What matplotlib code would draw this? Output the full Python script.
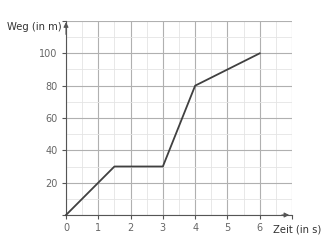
import numpy as np
import matplotlib.pyplot as plt

# Weg-Zeit-Diagramm
zeit = [0, 1.5, 3, 4, 6]
weg = [0, 30, 30, 80, 100]
x_ticks = [0, 1, 2, 3, 4, 5, 6]
y_ticks = [20, 40, 60, 80, 100]

fig = plt.figure(figsize=(3.35, 2.52), dpi=100)
ax = fig.add_axes([66/335, 1 - 215/252, 226/335, 194/252])

ax.set_xlim(0, 7)
ax.set_ylim(0, 120)

# grid
ax.set_xticks(np.arange(0, 7.01, 1))
ax.set_yticks(np.arange(0, 120.1, 20))
ax.set_xticks(np.arange(0, 7.01, 0.5), minor=True)
ax.set_yticks(np.arange(0, 120.1, 10), minor=True)
ax.grid(which='major', color='#b0b0b0', lw=0.8)
ax.grid(which='minor', color='#e4e4e4', lw=0.6)
ax.set_axisbelow(True)

ax.set_xticklabels([str(t) if t in x_ticks else '' for t in range(8)])
ax.set_yticklabels(['' if t not in y_ticks else str(t) for t in range(0, 121, 20)])
ax.tick_params(which='major', length=3, color='#555555', labelsize=7, labelcolor='#666666', pad=3)
ax.tick_params(which='minor', length=0)

for s in ['top', 'right']:
    ax.spines[s].set_visible(False)
for s in ['left', 'bottom']:
    ax.spines[s].set_color('#555555')
    ax.spines[s].set_linewidth(0.8)

ax.plot(zeit, weg, color='#404040', lw=1.3, clip_on=False, zorder=3)

# Pfeile an den Achsen
ax.annotate('', xy=(7, 0), xytext=(6.6, 0),
            arrowprops=dict(arrowstyle='-|>', color='#555555', lw=0.8, mutation_scale=7),
            annotation_clip=False)
ax.annotate('', xy=(0, 121), xytext=(0, 110),
            arrowprops=dict(arrowstyle='-|>', color='#555555', lw=0.8, mutation_scale=7),
            annotation_clip=False)

fig.text(62/335, 1 - 27/252, 'Weg (in m)', ha='right', va='center', fontsize=7.2, color='#333333')
fig.text(273/335, 1 - 230/252, 'Zeit (in s)', ha='left', va='center', fontsize=7.2, color='#333333')

fig.savefig('out.png', dpi=100)
